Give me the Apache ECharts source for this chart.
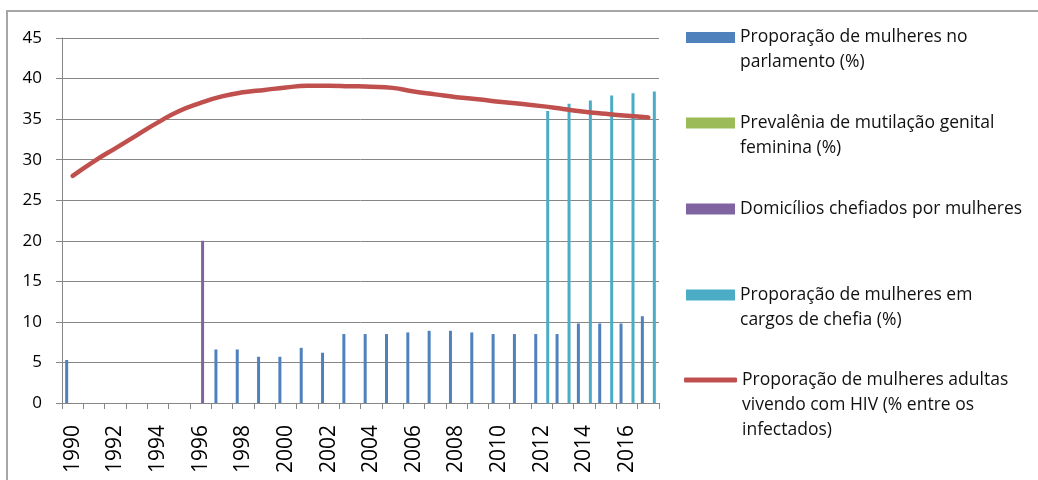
<!DOCTYPE html>
<html>
<head>
<meta charset="utf-8">
<script src="https://cdn.jsdelivr.net/npm/echarts@6/dist/echarts.min.js"></script>
<style>
  html, body { margin: 0; padding: 0; background: #fff; }
  #frame { position: absolute; left: 6px; top: 10px; width: 1100px; height: 500px; border: 2px solid #a6a6a6; box-sizing: border-box; }
  #chart { position: absolute; left: 0; top: 0; width: 1038px; height: 480px; }
</style>
</head>
<body>
<div id="frame"></div>
<div id="chart"></div>
<script>
// anos
const years = ['1990','1991','1992','1993','1994','1995','1996','1997','1998','1999',
  '2000','2001','2002','2003','2004','2005','2006','2007','2008','2009',
  '2010','2011','2012','2013','2014','2015','2016','2017'];

const parlamento = [5.3, null, null, null, null, null, null, 6.6, 6.6, 5.7,
  5.7, 6.8, 6.2, 8.5, 8.5, 8.5, 8.7, 8.9, 8.9, 8.7,
  8.5, 8.5, 8.5, 8.5, 9.8, 9.8, 9.8, 10.7];
const mutilacao = [];
const domicilios = [null, null, null, null, null, null, 20, null, null, null,
  null, null, null, null, null, null, null, null, null, null,
  null, null, null, null, null, null, null, null];
const chefia = [null, null, null, null, null, null, null, null, null, null,
  null, null, null, null, null, null, null, null, null, null,
  null, null, 36.0, 36.9, 37.3, 37.9, 38.2, 38.4];
const hiv = [28.0, 29.8, 31.4, 33.0, 34.6, 36.0, 37.0, 37.8, 38.3, 38.6,
  38.9, 39.1, 39.1, 39.05, 39.0, 38.85, 38.4, 38.05, 37.7, 37.45,
  37.15, 36.9, 36.6, 36.25, 35.9, 35.65, 35.4, 35.2];

const names = [
  'Proporação de mulheres no\nparlamento (%)',
  'Prevalênia de mutilação genital\nfeminina (%)',
  'Domicílios chefiados por mulheres',
  'Proporação de mulheres em\ncargos de chefia (%)',
  'Proporação de mulheres adultas\nvivendo com HIV (% entre os\ninfectados)'
];
const colors = ['#4F81BD', '#9BBB59', '#8064A2', '#4BACC6', '#C0504D'];
const FONT = '"Open Sans", sans-serif';
const LH = 25;
// icon centre y for each legend entry
const iconCentres = [37.5, 123, 209, 295, 380];

const chart = echarts.init(document.getElementById('chart'));

// leading blank lines keep the icon level with the first text line
const legends = names.map((n, i) => {
  const lines = n.split('\n').length;
  const isLine = i === 4;
  return {
    data: [n],
    left: isLine ? 684 : 686,
    top: iconCentres[i] - (2 * lines - 1) * LH / 2,
    orient: 'vertical',
    padding: 0,
    itemWidth: isLine ? 53 : 49,
    itemHeight: isLine ? 5 : 11,
    itemGap: 0,
    selectedMode: false,
    icon: isLine ? 'roundRect' : 'rect',
    formatter: name => '\n'.repeat(lines - 1) + name,
    textStyle: { fontFamily: FONT, fontSize: 17.5, color: '#111', lineHeight: LH }
  };
});

const barSeries = [parlamento, mutilacao, domicilios, chefia].map((d, i) => ({
  name: names[i],
  type: 'bar',
  data: d,
  barWidth: 3,
  barGap: '33%',
  itemStyle: { color: colors[i] },
  animation: false
}));

chart.setOption({
  backgroundColor: 'transparent',
  animation: false,
  color: colors,
  legend: legends,
  grid: { left: 62, right: 379, top: 38, bottom: 77, containLabel: false },
  xAxis: {
    type: 'category',
    data: years,
    boundaryGap: true,
    axisLine: { lineStyle: { color: '#868686', width: 1 } },
    axisTick: { show: true, interval: 0, length: 6, lineStyle: { color: '#868686' } },
    axisLabel: { interval: 1, rotate: 90, margin: 22, fontFamily: FONT, fontSize: 21, color: '#000' }
  },
  yAxis: {
    type: 'value',
    min: 0, max: 45, interval: 5,
    axisLine: { show: true, lineStyle: { color: '#868686', width: 1 } },
    axisTick: { show: true, length: 6, lineStyle: { color: '#868686' } },
    axisLabel: { margin: 20, fontFamily: FONT, fontSize: 17, color: '#000' },
    splitLine: { lineStyle: { color: '#868686', width: 1 } }
  },
  series: barSeries.concat([{
    name: names[4],
    type: 'line',
    data: hiv,
    smooth: true,
    symbol: 'none',
    lineStyle: { color: colors[4], width: 4.5, cap: 'round' },
    itemStyle: { color: colors[4] },
    z: 5
  }])
});
</script>
</body>
</html>
